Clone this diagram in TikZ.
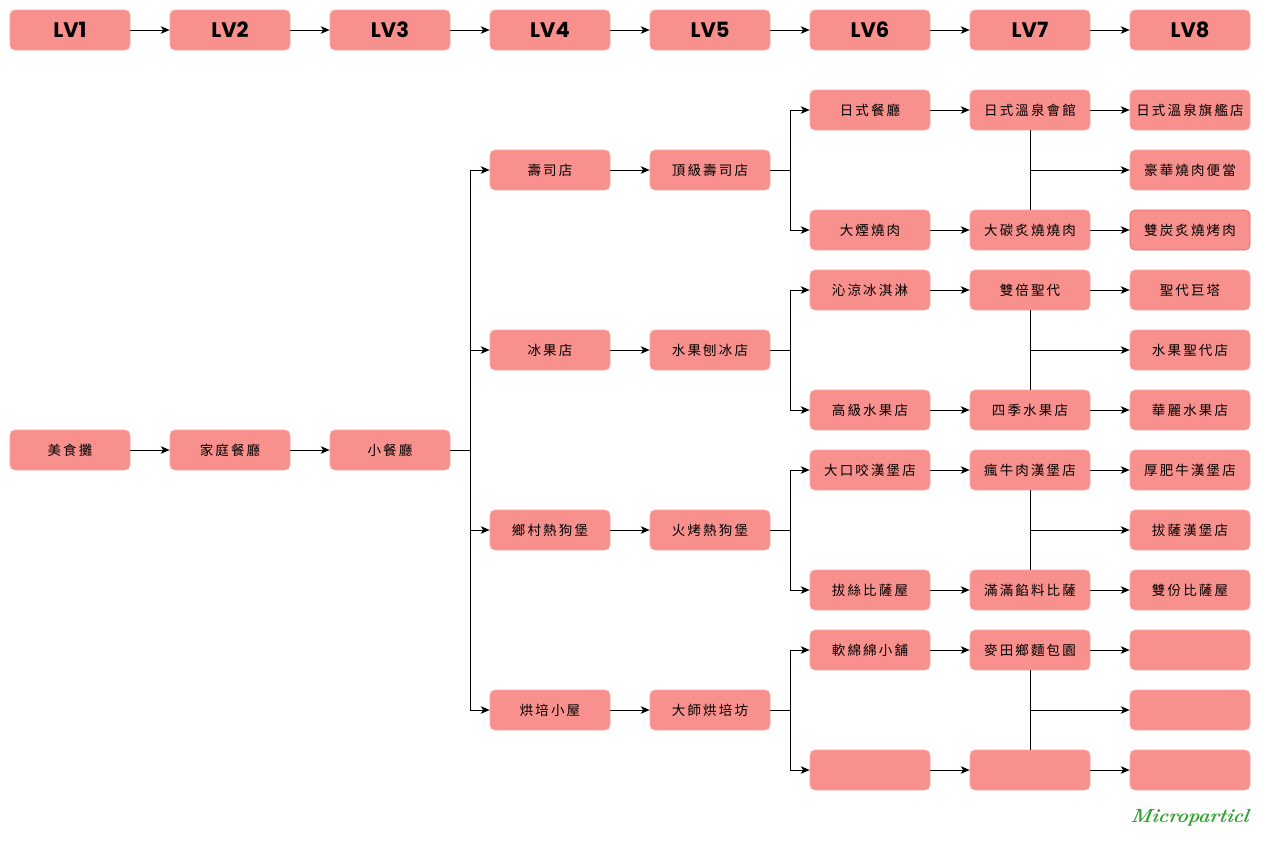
\documentclass[tikz,border=0pt]{standalone}
\usepackage{fontspec}
\usetikzlibrary{arrows.meta}
\newfontfamily\cjkfont[LetterSpace=16]{Noto Sans CJK TC}
\newfontfamily\lvfont{Poppins}
\definecolor{boxfill}{RGB}{248,145,141}
\definecolor{boxedge}{RGB}{220,100,96}
\definecolor{sigcol}{RGB}{45,160,45}
\tikzset{
  box/.style={rectangle, rounded corners=5pt, fill=boxfill, draw=boxfill!80!white,
    line width=0.6pt, minimum width=120pt, minimum height=40pt, inner sep=0pt,
    font=\cjkfont\fontsize{13.5}{15}\selectfont},
  lvbox/.style={box, font=\lvfont\bfseries\fontsize{21}{24}\selectfont},
  arr/.style={-{Stealth[length=9pt,width=7.5pt,inset=2.5pt]}, line width=0.9pt, black},
  ln/.style={line width=0.9pt, black},
}
\begin{document}
\begin{tikzpicture}[x=1pt,y=-1pt]
\useasboundingbox (0,0) rectangle (1261,849);
% LV row
\foreach \i/\x in {1/70,2/230,3/390,4/550,5/710,6/870,7/1030,8/1190}
  \node[lvbox] (lv\i) at (\x,30) {LV\i};
\foreach \i [evaluate=\i as \j using int(\i+1)] in {1,...,7}
  \draw[arr] (lv\i.east) -- (lv\j.west);
% left chain
\node[box] (a1) at (70,450) {美食攤};
\node[box] (a2) at (230,450) {家庭餐廳};
\node[box] (a3) at (390,450) {小餐廳};
\draw[arr] (a1.east) -- (a2.west);
\draw[arr] (a2.east) -- (a3.west);
% LV4 and LV5
\node[box] (g1a) at (550,170) {壽司店};
\node[box] (g2a) at (550,350) {冰果店};
\node[box] (g3a) at (550,530) {鄉村熱狗堡};
\node[box] (g4a) at (550,710) {烘培小屋};
\node[box] (g1b) at (710,170) {頂級壽司店};
\node[box] (g2b) at (710,350) {水果刨冰店};
\node[box] (g3b) at (710,530) {火烤熱狗堡};
\node[box] (g4b) at (710,710) {大師烘培坊};
\coordinate (trunk) at (470,450);
\draw[ln] (a3.east) -- (trunk);
\foreach \g in {1,2,3,4}{
  \draw[arr] (trunk) |- (g\g a.west);
  \draw[arr] (g\g a.east) -- (g\g b.west);
}
% LV6
\node[box] (g1c) at (870,110) {日式餐廳};
\node[box] (g1d) at (870,230) {大煙燒肉};
\node[box] (g2c) at (870,290) {沁涼冰淇淋};
\node[box] (g2d) at (870,410) {高級水果店};
\node[box] (g3c) at (870,470) {大口咬漢堡店};
\node[box] (g3d) at (870,590) {拔絲比薩屋};
\node[box] (g4c) at (870,650) {軟綿綿小舖};
\node[box] (g4d) at (870,770) {};
% LV7
\node[box] (g1e) at (1030,110) {日式溫泉會館};
\node[box] (g1f) at (1030,230) {大碳炙燒燒肉};
\node[box] (g2e) at (1030,290) {雙倍聖代};
\node[box] (g2f) at (1030,410) {四季水果店};
\node[box] (g3e) at (1030,470) {瘋牛肉漢堡店};
\node[box] (g3f) at (1030,590) {滿滿餡料比薩};
\node[box] (g4e) at (1030,650) {麥田鄉麵包園};
\node[box] (g4f) at (1030,770) {};
% LV8
\node[box] (g1g) at (1190,110) {日式溫泉旗艦店};
\node[box] (g1h) at (1190,170) {豪華燒肉便當};
\node[box, draw=boxedge] (g1i) at (1190,230) {雙炭炙燒烤肉};
\node[box] (g2g) at (1190,290) {聖代巨塔};
\node[box] (g2h) at (1190,350) {水果聖代店};
\node[box] (g2i) at (1190,410) {華麗水果店};
\node[box] (g3g) at (1190,470) {厚肥牛漢堡店};
\node[box] (g3h) at (1190,530) {拔薩漢堡店};
\node[box] (g3i) at (1190,590) {雙份比薩屋};
\node[box] (g4g) at (1190,650) {};
\node[box] (g4h) at (1190,710) {};
\node[box] (g4i) at (1190,770) {};
\foreach \g/\y in {1/170,2/350,3/530,4/710}{
  \coordinate (j\g) at (790,\y);
  \draw[ln] (g\g b.east) -- (j\g);
  \draw[arr] (j\g) |- (g\g c.west);
  \draw[arr] (j\g) |- (g\g d.west);
  \draw[arr] (g\g c.east) -- (g\g e.west);
  \draw[arr] (g\g d.east) -- (g\g f.west);
  \draw[arr] (g\g e.east) -- (g\g g.west);
  \draw[arr] (g\g f.east) -- (g\g i.west);
  \draw[ln] (g\g e.south) -- (g\g f.north);
  \coordinate (m\g) at (g\g e.south |- g\g h.west);
  \draw[arr] (m\g) -- (g\g h.west);
}
\node[font=\itshape\bfseries\fontsize{19}{22}\selectfont, text=sigcol, xslant=0.15] (sig) at (1190,818) {Microparticl};
\end{tikzpicture}
\end{document}
